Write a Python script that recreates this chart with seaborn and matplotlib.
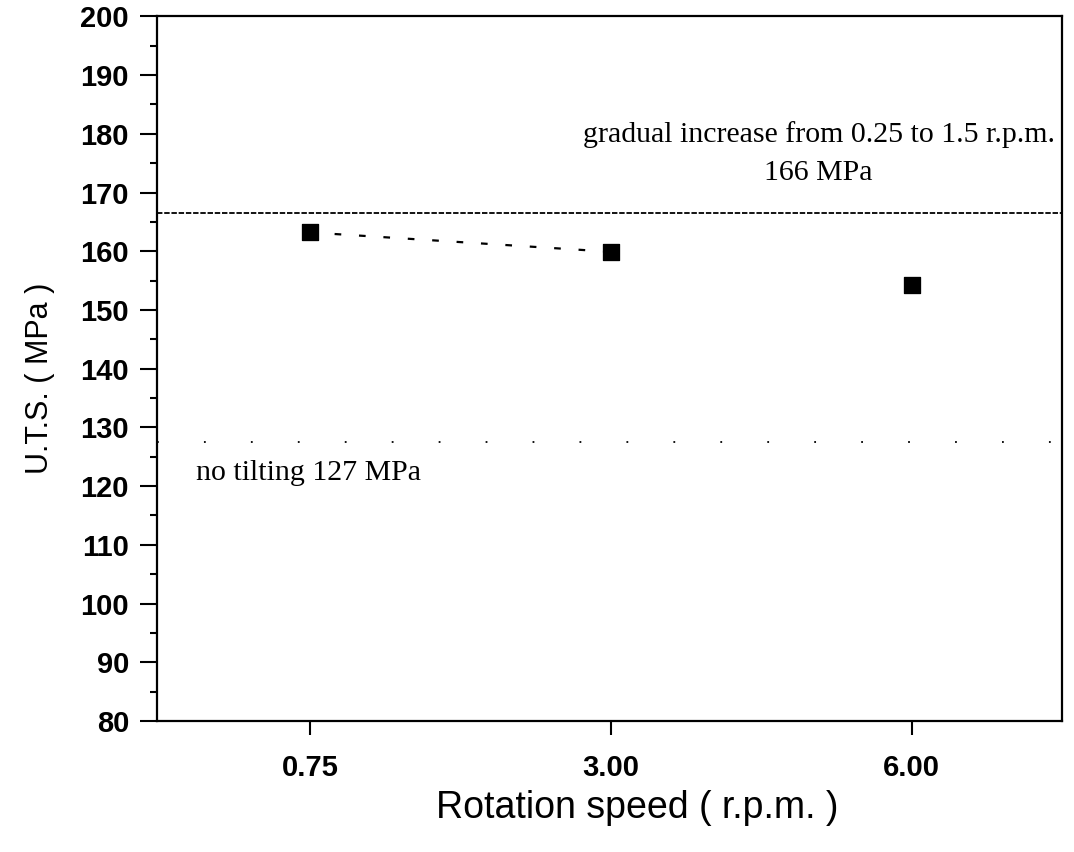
import matplotlib
matplotlib.use("Agg")
import matplotlib.pyplot as plt
from matplotlib.ticker import MultipleLocator
import seaborn as sns
import pandas as pd

# Data
speeds = ["0.75", "3.00", "6.00"]
uts = [163.2, 159.9, 154.3]
ref_gradual = 166.5
ref_no_tilt = 127.5
ref_gradual_text = "gradual increase from 0.25 to 1.5 r.p.m.\n166 MPa"
ref_no_tilt_text = "no tilting 127 MPa"

df = pd.DataFrame({"speed": speeds, "uts": uts})

sns.set_style("ticks")
plt.rcParams["font.family"] = ["Liberation Sans", "DejaVu Sans"]
plt.rcParams["text.color"] = "black"
plt.rcParams["axes.labelcolor"] = "black"
plt.rcParams["xtick.color"] = "black"
plt.rcParams["ytick.color"] = "black"

fig = plt.figure(figsize=(10.74, 8.52), dpi=100)
ax = fig.add_axes([0.146, 0.1538, 0.843, 0.827])

# dashed connecting line between first two points
sns.lineplot(data=df.iloc[:2], x="speed", y="uts", ax=ax, color="black",
             linestyle=(0, (3, 8)), linewidth=1.6, sort=False)
sns.scatterplot(data=df, x="speed", y="uts", ax=ax, marker="s", s=140,
                color="black", edgecolor="black", zorder=5)

ax.axhline(ref_gradual, color="black", linestyle=(0, (3, 1)), linewidth=1.3)
ax.axhline(ref_no_tilt, color="black", linestyle=(0, (1, 25)), linewidth=1.3)

ax.text(1.69, 176.6, ref_gradual_text, ha="center", va="center",
        fontsize=21.5, family=["Liberation Serif"], linespacing=1.6)
ax.text(-0.38, 122.3, ref_no_tilt_text, ha="left", va="center",
        fontsize=21.5, family=["Liberation Serif"])

ax.set_xlim(-0.51, 2.5)
ax.set_ylim(80, 200)
ax.yaxis.set_major_locator(MultipleLocator(10))
ax.yaxis.set_minor_locator(MultipleLocator(5))
ax.tick_params(axis="y", which="major", length=12, width=1.5, labelsize=21, pad=8)
ax.tick_params(axis="y", which="minor", length=5, width=1.5)
ax.tick_params(axis="x", which="major", length=10, width=1.5, labelsize=21, pad=14)
for lab in ax.get_yticklabels() + ax.get_xticklabels():
    lab.set_fontweight("bold")

for sp in ax.spines.values():
    sp.set_visible(True)
    sp.set_linewidth(1.6)
    sp.set_color("black")

ax.set_xlabel("Rotation speed ( r.p.m. )", fontsize=27)
ax.set_ylabel("U.T.S. ( MPa )", fontsize=22)
ax.xaxis.set_label_coords(0.531, -0.098)
ax.yaxis.set_label_coords(-0.112, 0.487)

fig.savefig("out.png", dpi=100)
